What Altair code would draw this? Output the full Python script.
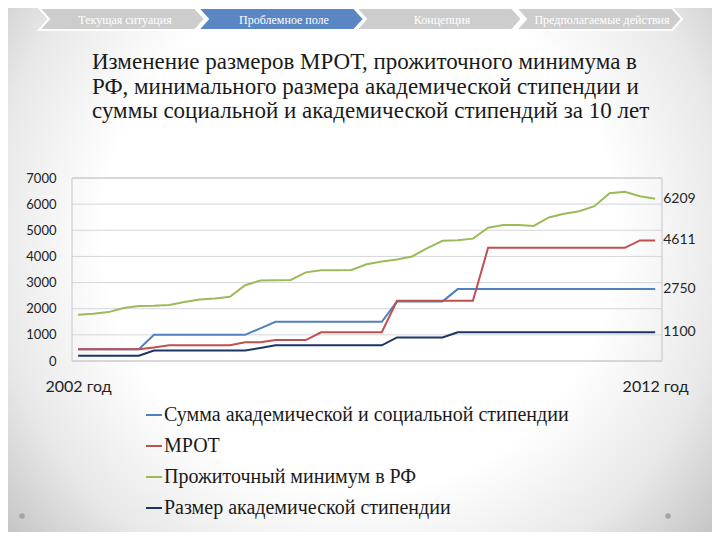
import altair as alt
import pandas as pd

# ---------------- data ----------------
idx = list(range(39))  # points along 2002 ... 2012
series_names = [
    "Сумма академической и социальной стипендии",
    "МРОТ",
    "Прожиточный минимум в РФ",
    "Размер академической стипендии",
]
series_colors = ["#4f81bd", "#c0504d", "#9bbb59", "#1c3566"]

sum_stip = [450] * 5 + [1000] * 7 + [1250] + [1500] * 8 + [2280] * 4 + [2750] * 14
mrot = [450] * 5 + [520] + [600] * 5 + [720] * 2 + [800] * 3 + [1100] * 5 + [2300] * 6 + [4330] * 10 + [4611] * 2
prozh = [1770, 1805, 1870, 2026, 2104, 2117, 2143, 2260, 2350, 2390, 2455, 2900, 3078,
         3090, 3100, 3390, 3468, 3468, 3480, 3700, 3808, 3885, 4000, 4320, 4600, 4615,
         4680, 5100, 5200, 5200, 5165, 5490, 5630, 5730, 5920, 6420, 6470, 6300, 6209]
acad = [200] * 5 + [400] * 7 + [500] + [600] * 8 + [900] * 4 + [1100] * 14

y_ticks = [0, 1000, 2000, 3000, 4000, 5000, 6000, 7000]
x_tick_labels = ["2002 год", "2012 год"]

title_lines = [
    "Изменение размеров МРОТ, прожиточного минимума в",
    "РФ, минимального размера академической стипендии и",
    "суммы социальной и академической стипендий за 10 лет",
]
nav_labels = ["Текущая ситуация", "Проблемное поле", "Концепция", "Предполагаемые действия"]
nav_active = [False, True, False, False]

SERIF = "Liberation Serif"

# ---------------- tables ----------------
rows = []
for name, vals in zip(series_names, [sum_stip, mrot, prozh, acad]):
    for k, v in zip(idx, vals):
        rows.append({"k": k, "v": v, "s": name})
df = pd.DataFrame(rows)

last = pd.DataFrame({
    "k": [idx[-1]] * 4,
    "v": [prozh[-1], mrot[-1], sum_stip[-1], acad[-1]],
})
last["t"] = last["v"].astype(str)

W, H = 590, 183
PAD = {"left": 64, "top": 170, "right": 50, "bottom": 171}

x_scale = alt.Scale(domain=[-0.4, 38.45], nice=False, zero=False)
y_scale = alt.Scale(domain=[0, 7000], nice=False)

y_axis = alt.Axis(values=y_ticks, tickCount=len(y_ticks), grid=False, ticks=False,
                  tickSize=0, domain=False, labelPadding=16, labelFont="Lato",
                  labelFontSize=13, format="d", labelOverlap=False,
                  labelColor="#222222", zindex=1, title=None)

one = pd.DataFrame({"a": [0]})

# background vignette
bg = alt.Chart(one).mark_rect(
    fill={
        "gradient": "radial",
        "x1": 0.5, "y1": 0.45, "r1": 0,
        "x2": 0.5, "y2": 0.45, "r2": 0.66,
        "stops": [
            {"offset": 0.0, "color": "#ffffff"},
            {"offset": 0.55, "color": "#ffffff"},
            {"offset": 0.8, "color": "#e8e8e8"},
            {"offset": 1.0, "color": "#c4c4c4"},
        ],
    }
).encode(x=alt.value(-PAD["left"]), x2=alt.value(W + PAD["right"]),
         y=alt.value(-PAD["top"]), y2=alt.value(H + PAD["bottom"]))

layers = [bg]

# navigation chevrons
chev = "M-1,-0.133 L0.88,-0.133 L1,0 L0.88,0.133 L-1,0.133 L-0.88,0 Z"
nav_x = [50, 209, 367, 527]
for lab, cx, act in zip(nav_labels, nav_x, nav_active):
    layers.append(
        alt.Chart(one).mark_point(
            shape=chev, size=166 ** 2, filled=True,
            fill="#5a86c4" if act else "#cdcdcd",
            stroke="#ffffff", strokeWidth=2, opacity=1, fillOpacity=1,
        ).encode(x=alt.value(cx), y=alt.value(-159))
    )
    layers.append(
        alt.Chart(pd.DataFrame({"t": [lab]})).mark_text(
            font=SERIF, fontSize=12, color="#ffffff",
            align="center", baseline="middle",
        ).encode(text="t:N", x=alt.value(cx + 3), y=alt.value(-158))
    )

# title
for i, line in enumerate(title_lines):
    layers.append(
        alt.Chart(pd.DataFrame({"t": [line]})).mark_text(
            font=SERIF, fontSize=23, color="#1a1a1a",
            align="left", baseline="alphabetic",
        ).encode(text="t:N", x=alt.value(20), y=alt.value(-109 + i * 24.5))
    )

# grid lines (carry the y axis) and plot border, drawn above the background
grid = alt.Chart(pd.DataFrame({"g": y_ticks})).mark_rule(
    color="#d5d5dc", strokeWidth=1
).encode(y=alt.Y("g:Q", scale=y_scale, axis=y_axis))
layers.append(grid)

border = alt.Chart(one).mark_rect(
    fill=None, fillOpacity=0, stroke="#c6c6c6", strokeWidth=1
).encode(x=alt.value(0), x2=alt.value(W), y=alt.value(0), y2=alt.value(H))
layers.append(border)

label_expr = f"datum.value == 0 ? '{x_tick_labels[0]}' : '{x_tick_labels[1]}'"

lines = alt.Chart(df).mark_line(strokeWidth=2).encode(
    x=alt.X("k:Q", scale=x_scale, title=None,
            axis=alt.Axis(values=[idx[0], idx[-1]], labelExpr=label_expr, grid=False,
                          ticks=False, domain=False, labelPadding=17, labelFontSize=16,
                          labelFont="Lato", labelColor="#222222", labelFlush=False,
                          zindex=1)),
    y=alt.Y("v:Q", scale=y_scale, title=None),
    color=alt.Color("s:N", scale=alt.Scale(domain=series_names, range=series_colors),
                    sort=series_names,
                    legend=alt.Legend(orient="none", legendX=72, legendY=227, title=None,
                                      symbolType="stroke", symbolSize=256,
                                      symbolStrokeWidth=2, labelFont=SERIF,
                                      labelFontSize=20, labelColor="#1a1a1a",
                                      rowPadding=11, labelOffset=0, padding=0,
                                      labelLimit=0, zindex=1)),
)
layers.append(lines)

ends = alt.Chart(last).mark_text(
    align="left", baseline="middle", dx=8, font="Lato", fontSize=14, color="#262626"
).encode(x=alt.X("k:Q", scale=x_scale), y=alt.Y("v:Q", scale=y_scale), text="t:N")
layers.append(ends)

# corner dots
for dx_ in [-50, 596]:
    layers.append(
        alt.Chart(one).mark_point(filled=True, size=30, color="#a6a6a6", opacity=1)
        .encode(x=alt.value(dx_), y=alt.value(338))
    )

chart = alt.layer(*layers).properties(
    width=W, height=H,
    autosize=alt.AutoSizeParams(type="none"),
    padding=PAD,
    background="#ffffff",
).configure_view(stroke=None)

chart.save("out.html", embed_options={"renderer": "svg", "actions": False})
